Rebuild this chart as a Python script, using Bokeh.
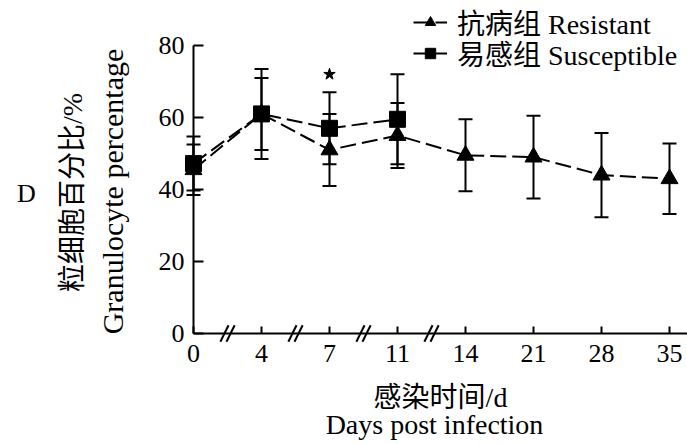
from bokeh.plotting import figure
from bokeh.models import (ColumnDataSource, Whisker, TeeHead, Range1d, FixedTicker,
                          Legend, LegendItem, Label)
from bokeh.embed import file_html
from bokeh.resources import INLINE
import math

# ---- data ----
day_labels = ["0", "4", "7", "11", "14", "21", "28", "35"]
res_mean = [45.5, 61.0, 51.0, 55.0, 49.5, 49.0, 44.0, 43.0]
res_sd = [7.0, 12.5, 10.0, 9.0, 10.0, 11.5, 11.7, 9.8]
sus_labels = ["0", "4", "7", "11"]
sus_mean = [47.2, 61.0, 57.0, 59.5]
sus_sd = [7.5, 10.0, 10.0, 12.5]
star_label = "7"
star_value = 72.0
y_ticks = [0, 20, 40, 60, 80]

SERIF = "Liberation Serif, Noto Sans CJK SC"

pos = {d: i for i, d in enumerate(day_labels)}
res_x = [pos[d] for d in day_labels]
sus_x = [pos[d] for d in sus_labels]

res_src = ColumnDataSource(dict(x=res_x, y=res_mean,
                                up=[m + s for m, s in zip(res_mean, res_sd)],
                                lo=[m - s for m, s in zip(res_mean, res_sd)]))
sus_src = ColumnDataSource(dict(x=sus_x, y=sus_mean,
                                up=[m + s for m, s in zip(sus_mean, sus_sd)],
                                lo=[m - s for m, s in zip(sus_mean, sus_sd)]))

X_END = 7.2647
p = figure(width=687, height=444, output_backend="svg", toolbar_location=None,
           title=None,
           x_range=Range1d(-2.8382, X_END), y_range=Range1d(-30.83, 92.5),
           min_border_left=0, min_border_right=0, min_border_top=0,
           min_border_bottom=0)
p.outline_line_color = None
p.grid.visible = False
p.background_fill_color = "white"
p.border_fill_color = "white"

# axes (drawn at data zero, inside the frame)
p.xaxis.fixed_location = 0
p.yaxis.fixed_location = 0
p.xaxis.bounds = (0, X_END)
p.yaxis.bounds = (0, 80)
p.xaxis.ticker = FixedTicker(ticks=list(range(len(day_labels))))
p.xaxis.major_label_overrides = {i: d for i, d in enumerate(day_labels)}
p.yaxis.ticker = FixedTicker(ticks=y_ticks)
for ax in (p.xaxis, p.yaxis):
    ax.axis_line_width = 2
    ax.axis_line_color = "black"
    ax.major_tick_line_width = 2
    ax.major_tick_line_color = "black"
    ax.major_tick_out = 0
    ax.minor_tick_line_color = None
    ax.major_label_text_font = SERIF
    ax.major_label_text_font_size = "26px"
    ax.major_label_text_color = "black"
p.xaxis.major_tick_in = 7
p.yaxis.major_tick_in = 10
p.xaxis.major_label_standoff = 11
p.yaxis.major_label_standoff = 9

# axis break marks between categories
breaks = [i + 0.5 for i in range(4)]
bx0, by0, bx1, by1 = [], [], [], []
for b in breaks:
    for off in (-0.045, 0.045):
        bx0.append(b + off - 0.06)
        bx1.append(b + off + 0.06)
        by0.append(-2.3)
        by1.append(2.3)
p.segment(bx0, by0, bx1, by1, line_color="black", line_width=2)

dash = "16 6"
# resistant
res_line = p.line("x", "y", source=res_src, line_color="black", line_width=2, line_dash=dash)
p.add_layout(Whisker(base="x", upper="up", lower="lo", source=res_src,
                     line_color="black", line_width=2,
                     upper_head=TeeHead(size=14, line_width=2, line_color="black"),
                     lower_head=TeeHead(size=14, line_width=2, line_color="black")))
res_pts = p.scatter("x", "y", source=res_src, marker="triangle", size=17,
                    fill_color="black", line_color="black")
# susceptible
sus_line = p.line("x", "y", source=sus_src, line_color="black", line_width=2, line_dash=dash)
p.add_layout(Whisker(base="x", upper="up", lower="lo", source=sus_src,
                     line_color="black", line_width=2,
                     upper_head=TeeHead(size=14, line_width=2, line_color="black"),
                     lower_head=TeeHead(size=14, line_width=2, line_color="black")))
sus_pts = p.scatter("x", "y", source=sus_src, marker="square", size=16,
                    fill_color="black", line_color="black")

# significance star
p.scatter([pos[star_label]], [star_value], marker="star", size=12,
          fill_color="black", line_color="black")

# legend: one entry per row
def add_legend(label, rends, loc):
    lg = Legend(items=[LegendItem(label=label, renderers=rends)],
                location=loc, padding=0, margin=0, border_line_color=None,
                background_fill_alpha=0, glyph_width=34, glyph_height=26,
                label_standoff=10, label_text_font=SERIF, label_text_font_size="28px",
                label_text_color="black")
    p.add_layout(lg)

add_legend("抗病组 Resistant", [res_line, res_pts], (413, 402))
add_legend("易感组 Susceptible", [sus_line, sus_pts], (413, 371))

# texts
def lab(text, x, y, size, angle=0.0, baseline="middle"):
    p.add_layout(Label(x=x, y=y, x_units="screen", y_units="screen", text=text,
                       text_font=SERIF, text_font_size=size, text_color="black",
                       text_align="center", text_baseline=baseline, angle=angle))

lab("D", 26, 251, "26px")
lab("粒细胞百分比/%", 72, 252, "28px", math.pi / 2)
lab("Granulocyte percentage", 112, 253, "30px", math.pi / 2)
lab("感染时间/d", 440, 47, "28px")
lab("Days post infection", 434, 20, "28px")

open("out.html", "w").write(file_html(p, INLINE))
